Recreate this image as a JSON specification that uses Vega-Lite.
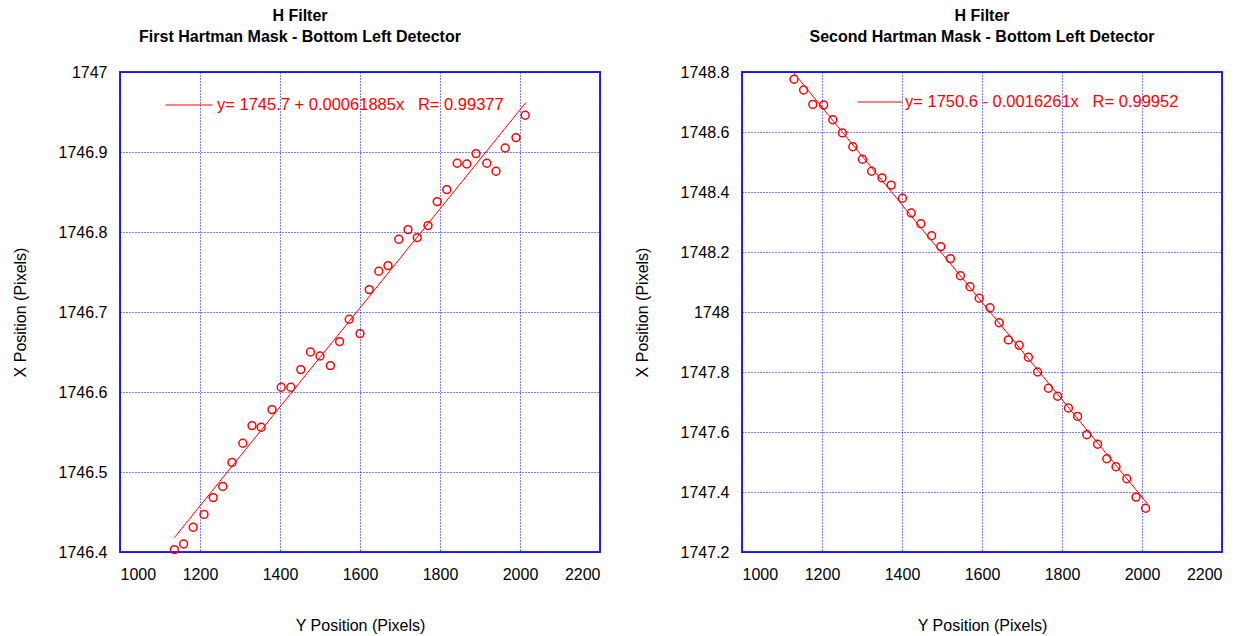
{
  "$schema": "https://vega.github.io/schema/vega-lite/v6.json",
  "background": "white",
  "padding": {"left": 11, "top": 7, "right": 5, "bottom": 0},
  "datasets": {
    "left": [
      {"y_position": 1136, "x_position": 1746.403},
      {"y_position": 1159, "x_position": 1746.410},
      {"y_position": 1183, "x_position": 1746.431},
      {"y_position": 1210, "x_position": 1746.447},
      {"y_position": 1233, "x_position": 1746.468},
      {"y_position": 1257, "x_position": 1746.482},
      {"y_position": 1280, "x_position": 1746.512},
      {"y_position": 1307, "x_position": 1746.536},
      {"y_position": 1330, "x_position": 1746.558},
      {"y_position": 1353, "x_position": 1746.556},
      {"y_position": 1380, "x_position": 1746.578},
      {"y_position": 1403, "x_position": 1746.606},
      {"y_position": 1427, "x_position": 1746.606},
      {"y_position": 1452, "x_position": 1746.628},
      {"y_position": 1476, "x_position": 1746.650},
      {"y_position": 1500, "x_position": 1746.645},
      {"y_position": 1526, "x_position": 1746.633},
      {"y_position": 1549, "x_position": 1746.663},
      {"y_position": 1573, "x_position": 1746.691},
      {"y_position": 1600, "x_position": 1746.673},
      {"y_position": 1623, "x_position": 1746.728},
      {"y_position": 1647, "x_position": 1746.751},
      {"y_position": 1670, "x_position": 1746.758},
      {"y_position": 1697, "x_position": 1746.791},
      {"y_position": 1720, "x_position": 1746.803},
      {"y_position": 1743, "x_position": 1746.793},
      {"y_position": 1770, "x_position": 1746.808},
      {"y_position": 1793, "x_position": 1746.838},
      {"y_position": 1817, "x_position": 1746.853},
      {"y_position": 1843, "x_position": 1746.886},
      {"y_position": 1867, "x_position": 1746.885},
      {"y_position": 1890, "x_position": 1746.898},
      {"y_position": 1917, "x_position": 1746.886},
      {"y_position": 1940, "x_position": 1746.876},
      {"y_position": 1963, "x_position": 1746.905},
      {"y_position": 1990, "x_position": 1746.918},
      {"y_position": 2013, "x_position": 1746.946}
    ],
    "leftfit": [
      {"y_position": 1136, "x_position": 1746.418, "label": "y= 1745.7 + 0.00061885x \u00a0 R= 0.99377"},
      {"y_position": 2015, "x_position": 1746.962, "label": "y= 1745.7 + 0.00061885x \u00a0 R= 0.99377"}
    ],
    "right": [
      {"y_position": 1130, "x_position": 1748.776},
      {"y_position": 1154, "x_position": 1748.740},
      {"y_position": 1177, "x_position": 1748.692},
      {"y_position": 1204, "x_position": 1748.690},
      {"y_position": 1227, "x_position": 1748.641},
      {"y_position": 1251, "x_position": 1748.597},
      {"y_position": 1277, "x_position": 1748.551},
      {"y_position": 1301, "x_position": 1748.509},
      {"y_position": 1324, "x_position": 1748.469},
      {"y_position": 1350, "x_position": 1748.447},
      {"y_position": 1373, "x_position": 1748.423},
      {"y_position": 1401, "x_position": 1748.379},
      {"y_position": 1423, "x_position": 1748.330},
      {"y_position": 1447, "x_position": 1748.294},
      {"y_position": 1474, "x_position": 1748.254},
      {"y_position": 1497, "x_position": 1748.218},
      {"y_position": 1521, "x_position": 1748.178},
      {"y_position": 1546, "x_position": 1748.121},
      {"y_position": 1570, "x_position": 1748.084},
      {"y_position": 1593, "x_position": 1748.046},
      {"y_position": 1620, "x_position": 1748.014},
      {"y_position": 1643, "x_position": 1747.964},
      {"y_position": 1666, "x_position": 1747.907},
      {"y_position": 1693, "x_position": 1747.889},
      {"y_position": 1716, "x_position": 1747.849},
      {"y_position": 1739, "x_position": 1747.800},
      {"y_position": 1766, "x_position": 1747.746},
      {"y_position": 1789, "x_position": 1747.719},
      {"y_position": 1816, "x_position": 1747.680},
      {"y_position": 1839, "x_position": 1747.652},
      {"y_position": 1862, "x_position": 1747.591},
      {"y_position": 1889, "x_position": 1747.559},
      {"y_position": 1912, "x_position": 1747.511},
      {"y_position": 1935, "x_position": 1747.484},
      {"y_position": 1962, "x_position": 1747.444},
      {"y_position": 1985, "x_position": 1747.383},
      {"y_position": 2009, "x_position": 1747.346}
    ],
    "rightfit": [
      {"y_position": 1130, "x_position": 1748.796, "label": "y= 1750.6 - 0.0016261x \u00a0 R= 0.99952"},
      {"y_position": 2013, "x_position": 1747.362, "label": "y= 1750.6 - 0.0016261x \u00a0 R= 0.99952"}
    ]
  },
  "hconcat": [
    {
      "width": 480,
      "height": 480,
      "title": {"text": ["H Filter", "First Hartman Mask - Bottom Left Detector"], "dx": -60},
      "layer": [
        {
          "data": {"name": "leftfit"},
          "mark": {"type": "line", "strokeWidth": 1, "clip": true},
          "encoding": {
            "x": {"field": "y_position", "type": "quantitative", "scale": {"domain": [1000, 2200], "nice": false, "zero": false}, "axis": {"title": "Y Position (Pixels)", "values": [1000, 1200, 1400, 1600, 1800, 2000, 2200]}},
            "y": {"field": "x_position", "type": "quantitative", "scale": {"domain": [1746.4, 1747], "nice": false, "zero": false}, "axis": {"title": "X Position (Pixels)", "values": [1746.4, 1746.5, 1746.6, 1746.7, 1746.8, 1746.9, 1747]}},
            "color": {"field": "label", "type": "nominal", "scale": {"range": ["#ff0000"]}, "legend": {"orient": "none", "legendX": 45, "legendY": 9, "title": null, "symbolType": "stroke", "symbolSize": 2209, "symbolStrokeWidth": 1, "labelOffset": 4, "labelFontSize": 16.5, "labelFont": "Liberation Sans", "labelColor": "#ff0000", "padding": 0, "labelLimit": 500}}
          }
        },
        {
          "data": {"name": "left"},
          "mark": {"type": "point", "shape": "circle", "filled": false, "color": "#ff0000", "size": 62, "strokeWidth": 1.5, "opacity": 1},
          "encoding": {
            "x": {"field": "y_position", "type": "quantitative"},
            "y": {"field": "x_position", "type": "quantitative"}
          }
        }
      ]
    },
    {
      "width": 480,
      "height": 480,
      "title": {"text": ["H Filter", "Second Hartman Mask - Bottom Left Detector"]},
      "layer": [
        {
          "data": {"name": "rightfit"},
          "mark": {"type": "line", "strokeWidth": 1, "clip": true},
          "encoding": {
            "x": {"field": "y_position", "type": "quantitative", "scale": {"domain": [1000, 2200], "nice": false, "zero": false}, "axis": {"title": "Y Position (Pixels)", "values": [1000, 1200, 1400, 1600, 1800, 2000, 2200]}},
            "y": {"field": "x_position", "type": "quantitative", "scale": {"domain": [1747.2, 1748.8], "nice": false, "zero": false}, "axis": {"title": "X Position (Pixels)", "values": [1747.2, 1747.4, 1747.6, 1747.8, 1748, 1748.2, 1748.4, 1748.6, 1748.8]}},
            "color": {"field": "label", "type": "nominal", "scale": {"range": ["#ff0000"]}, "legend": {"orient": "none", "legendX": 115, "legendY": 7, "title": null, "symbolType": "stroke", "symbolSize": 2025, "symbolStrokeWidth": 1, "labelOffset": 2, "labelFontSize": 16.5, "labelFont": "Liberation Sans", "labelColor": "#ff0000", "padding": 0, "labelLimit": 500}}
          }
        },
        {
          "data": {"name": "right"},
          "mark": {"type": "point", "shape": "circle", "filled": false, "color": "#ff0000", "size": 62, "strokeWidth": 1.5, "opacity": 1},
          "encoding": {
            "x": {"field": "y_position", "type": "quantitative"},
            "y": {"field": "x_position", "type": "quantitative"}
          }
        }
      ]
    }
  ],
  "spacing": 32,
  "resolve": {"scale": {"color": "independent", "x": "independent", "y": "independent"}, "legend": {"color": "independent"}},
  "config": {
    "view": {"stroke": "#2424ff", "strokeWidth": 2},
    "font": "Liberation Sans",
    "title": {"fontSize": 16, "font": "Liberation Sans", "fontWeight": "bold", "lineHeight": 21, "anchor": "middle", "color": "#000000", "offset": 19},
    "axis": {
      "domain": false,
      "grid": true,
      "gridColor": "#0000ff",
      "gridDash": [1, 2],
      "gridWidth": 1,
      "gridOpacity": 1,
      "ticks": false,
      "labelFont": "Liberation Sans",
      "labelFontSize": 16,
      "labelColor": "#000000",
      "titleFont": "Liberation Sans",
      "titleFontSize": 16,
      "titleFontWeight": "normal",
      "titleColor": "#000000",
      "format": ".6~g"
    },
    "axisX": {"labelPadding": 14, "titlePadding": 35},
    "axisY": {"labelPadding": 13, "titlePadding": 30}
  }
}
